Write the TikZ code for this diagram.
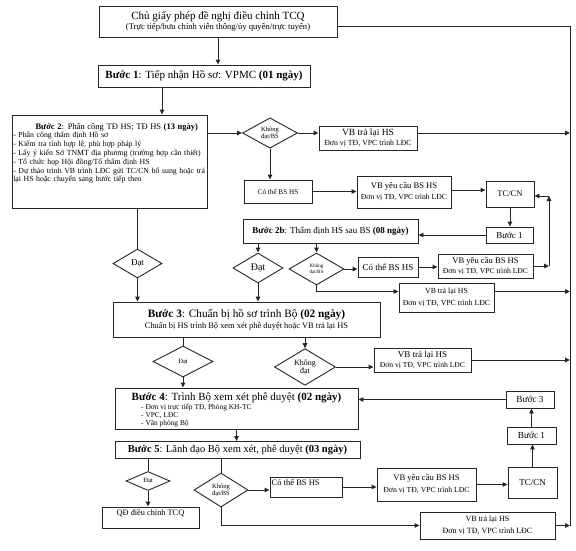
\documentclass[tikz,border=0pt]{standalone}
\usepackage{fontspec}
\setmainfont{Liberation Serif}
\usetikzlibrary{arrows.meta,shapes.geometric,calc}
\newcommand\myfs[2]{\fontsize{#1}{#2}\selectfont}
\begin{document}
\begin{tikzpicture}[x=1pt,y=-1pt,
 ln/.style={line width=0.9pt,draw=black!85},
 arr/.style={ln,-{Triangle[length=5pt,width=4.5pt]}},
 box/.style={draw=black!85,line width=0.9pt,inner sep=1pt,align=center},
 dia/.style={draw=black!85,line width=0.9pt,diamond,inner sep=0pt,align=center},
 txt/.style={inner sep=0pt}
]
\useasboundingbox (0,0) rectangle (576,550);
\fill[white] (0,0) rectangle (576,550);

% ---------- top part ----------
\node[box,minimum width=238pt,minimum height=31pt] (top) at (218,21.5)
 {\myfs{11}{12}Chủ giấy phép đề nghị điều chỉnh TCQ\\[-1.5pt]\myfs{8.6}{9}(Trực tiếp/bưu chính viễn thông/ủy quyền/trực tuyến)};
\node[box,minimum width=212pt,minimum height=22pt,font=\myfs{11}{12}] (b1) at (204,76)
 {\textbf{Bước 1}: Tiếp nhận Hồ sơ: VPMC \textbf{(01 ngày)}};
\node[box,minimum width=195pt,minimum height=93pt] (b2) at (109.5,161.5) {};
\node[txt,anchor=north west,text width=193pt,align=left,font=\myfs{7.8}{8.8}] (b2t) at ($(b2.north west)+(1.5,8.5)$)
 {{\centering\myfs{8.5}{9.5}\hspace*{14pt}\textbf{Bước 2}: Phân công TĐ HS; TĐ HS \textbf{(13 ngày)}\par}
 - Phân công thẩm định Hồ sơ\\
 - Kiểm tra tính hợp lệ, phù hợp pháp lý\\
 - Lấy ý kiến Sở TNMT địa phương (trường hợp cần thiết)\\
 - Tổ chức họp Hội đồng/Tổ thẩm định HS\\
 - Dự thảo trình VB trình LĐC gửi TC/CN bổ sung hoặc trả\\
 lại HS hoặc chuyển sang bước tiếp theo};

\node[dia,minimum width=55pt,minimum height=30pt,font=\myfs{6.5}{7}] (d1) at (270,133) {Không\\đạt/BS};
\node[box,minimum width=98pt,minimum height=24pt] (vb1) at (368,138)
 {\myfs{9.5}{9.5}VB trả lại HS\\[-1.5pt]\myfs{7.8}{8}Đơn vị TĐ, VPC trình LĐC};
\node[box,minimum width=68pt,minimum height=23pt,font=\myfs{7.2}{7.5}] (cb1) at (278,191.5) {Có thể BS HS};
\node[box,minimum width=94pt,minimum height=32pt] (vy1) at (404,192)
 {\myfs{8.6}{9}VB yêu cầu BS HS\\[-1pt]\myfs{7.7}{8}Đơn vị TĐ, VPC trình LĐC};
\node[box,minimum width=48pt,minimum height=26pt,font=\myfs{8.5}{9}] (tc1) at (510,194) {TC/CN};
\node[box,minimum width=47pt,minimum height=16pt,font=\myfs{9}{9}] (bs1) at (509.5,235) {Bước 1};
\node[box,minimum width=175pt,minimum height=24pt,font=\myfs{9}{10}] (b2b) at (330.5,231)
 {\textbf{Bước 2b}: Thẩm định HS sau BS \textbf{(08 ngày)}};

\node[dia,minimum width=49pt,minimum height=29pt,font=\myfs{9}{10}] (da) at (137.5,263.5) {Đạt};
\node[dia,minimum width=50pt,minimum height=30pt,font=\myfs{10}{10}] (db) at (258,268) {Đạt};
\node[dia,minimum width=55pt,minimum height=32pt,font=\myfs{5}{5.5}] (dc) at (316.5,269) {Không\\đạt/BS};
\node[box,minimum width=60pt,minimum height=20pt,font=\myfs{9}{10}] (cb2) at (388,267) {Có thể BS HS};
\node[box,minimum width=95pt,minimum height=24pt] (vy2) at (485.5,266)
 {\myfs{8.6}{8.6}VB yêu cầu BS HS\\[-1.5pt]\myfs{7.6}{7.6}Đơn vị TĐ, VPC trình LĐC};
\node[box,minimum width=95pt,minimum height=29pt] (vb2) at (446.5,297.5)
 {\myfs{7.8}{8}VB trả lại HS\\[0pt]\myfs{7.8}{8}Đơn vị TĐ, VPC trình LĐC};

% ---------- Buoc 3 ----------
\node[box,minimum width=267pt,minimum height=35pt] (b3) at (246.5,319.5)
 {\myfs{11.3}{12}\textbf{Bước 3}: Chuẩn bị hồ sơ trình Bộ \textbf{(02 ngày)}\\[-1pt]\myfs{8.4}{8.6}Chuẩn bị HS trình Bộ xem xét phê duyệt hoặc VB trả lại HS};
\node[dia,minimum width=60pt,minimum height=31pt,font=\myfs{6.5}{7}] (dd) at (183,361.5) {Đạt};
\node[dia,minimum width=61pt,minimum height=32pt,font=\myfs{8}{8}] (de) at (305,367) {Không\\đạt};
\node[box,minimum width=97pt,minimum height=24pt] (vb3) at (422.5,360)
 {\myfs{9}{9}VB trả lại HS\\[-1.5pt]\myfs{7.6}{7.6}Đơn vị TĐ, VPC trình LĐC};

% ---------- Buoc 4 ----------
\node[box,minimum width=243pt,minimum height=41pt] (b4) at (236.5,408.5) {};
\node[txt,anchor=base] (b4t) at (236.5,400.5) {\myfs{11}{12}\textbf{Bước 4}: Trình Bộ xem xét phê duyệt \textbf{(02 ngày)}};
\node[txt,anchor=north west,align=left,font=\myfs{7.4}{8.4}] (b4l) at (141,403.5)
 {- Đơn vị trực tiếp TĐ, Phòng KH-TC\\- VPC, LĐC\\- Văn phòng Bộ};
\node[box,minimum width=48pt,minimum height=17pt,font=\myfs{9.3}{9.3}] (b3s) at (530,399.5) {Bước 3};
\node[box,minimum width=49pt,minimum height=17pt,font=\myfs{9.3}{9.3}] (bs2) at (531.5,435.5) {Bước 1};
\node[box,minimum width=49pt,minimum height=31pt,font=\myfs{9}{9}] (tc2) at (532.5,482.5) {TC/CN};

% ---------- Buoc 5 ----------
\node[box,minimum width=245pt,minimum height=17pt,font=\myfs{10.5}{11}] (b5) at (237.5,450)
 {\textbf{Bước 5}: Lãnh đạo Bộ xem xét, phê duyệt \textbf{(03 ngày)}};
\node[dia,minimum width=44pt,minimum height=19pt,font=\myfs{6.5}{7}] (df) at (148,481) {Đạt};
\node[box,minimum width=97pt,minimum height=21pt] (qd) at (150.5,517.5) {};
\node[txt,anchor=base] (qdt) at (150.5,515.5) {\myfs{8.3}{9}QĐ điều chỉnh TCQ};
\node[dia,minimum width=54pt,minimum height=34pt,font=\myfs{6.5}{7}] (dg) at (221,490) {Không\\đạt/BS};
\node[box,minimum width=72pt,minimum height=20pt] (cb3) at (306,487) {};
\node[txt,anchor=base west] (cb3t) at (271.5,485) {\myfs{8.5}{9}Có thể BS HS};
\node[box,minimum width=99pt,minimum height=33pt] (vy3) at (426.5,484.5)
 {\myfs{8.6}{9}VB yêu cầu BS HS\\[0pt]\myfs{7.7}{8}Đơn vị TĐ, VPC trình LĐC};
\node[box,minimum width=135pt,minimum height=27pt] (vb4) at (487.5,525.5)
 {\myfs{8}{8}VB trả lại HS\\[0pt]\myfs{8}{8}Đơn vị TĐ, VPC trình LĐC};

% ---------- helper coordinates ----------
\coordinate (rl) at (570,26);
\coordinate (kx) at (549,0);
\coordinate (p1) at (162,0);

% ---------- connectors ----------
\draw[ln] (top.east |- rl) -- (rl) -- (rl |- vb4.east);
\draw[arr] (top.south) -- (top.south |- b1.north);
\draw[arr] (b1.south -| p1) -- (b2.north -| p1);
\draw[arr] (b2.east |- d1.west) -- (d1.west);
\draw[arr] (d1.east) -- (d1.east -| vb1.west);
\draw[arr] (vb1.east |- d1.east) -- (rl |- d1.east);
\draw[arr] (d1.south) -- (d1.south |- cb1.north);
\draw[arr] (cb1.east) -- (cb1.east -| vy1.west);
\draw[arr] ([yshift=2pt]vy1.east) -- ([yshift=2pt]vy1.east -| tc1.west);
\draw[arr] (tc1.south) -- (tc1.south |- bs1.north);
\draw[arr] (bs1.west) -- (bs1.west -| b2b.east);

\draw[ln] (da.north |- b2.south) -- (da.north);
\draw[arr] (da.south) -- (da.south |- b3.north);
\draw[arr] (db.north |- b2b.south) -- (db.north);
\draw[arr] (dc.north |- b2b.south) -- (dc.north);
\draw[arr] (db.south) -- (db.south |- b3.north);
\draw[arr] (dc.east) -- (dc.east -| cb2.west);
\draw[arr] (cb2.east) -- (cb2.east -| vy2.west);
\draw[arr] (vy2.east) -- (vy2.east -| kx);
\draw[arr] (vy2.east -| kx) -- ([yshift=-2pt]tc1.east -| kx);
\draw[arr] ([yshift=-2pt]tc1.east -| kx) -- ([yshift=-2pt]tc1.east);
\draw[arr] (dc.south) |- ([yshift=6pt]vb2.west);
\draw[arr] ([yshift=6pt]vb2.east) -- ([yshift=6pt]vb2.east -| rl);

\draw[ln] (dd.north |- b3.south) -- (dd.north);
\draw[arr] (de.north |- b3.south) -- (de.north);
\draw[arr] (dd.south) -- (dd.south |- b4.north);
\draw[arr] (de.east) -- (de.east -| vb3.west);
\draw[arr] (vb3.east) -- (vb3.east -| rl);

\draw[arr] (b3s.west) -- (b3s.west -| b4.east);
\draw[arr] (bs2.north) -- (bs2.north |- b3s.south);
\draw[arr] (tc2.north) -- (tc2.north |- bs2.south);
\draw[arr] (b4.south) -- (b4.south |- b5.north);

\draw[ln] (df.north |- b5.south) -- (df.north);
\draw[arr] (df.south) -- (df.south |- qd.north);
\draw[ln] (dg.north |- b5.south) -- (dg.north);
\draw[arr] (dg.east) -- (dg.east -| cb3.west);
\draw[arr] (cb3.east) -- (cb3.east -| vy3.west);
\draw[arr] (vy3.east) -- (vy3.east -| tc2.west);
\draw[arr] (dg.south) |- (vb4.west);
\draw[arr] (vb4.east) -- (vb4.east -| rl);
\end{tikzpicture}
\end{document}
